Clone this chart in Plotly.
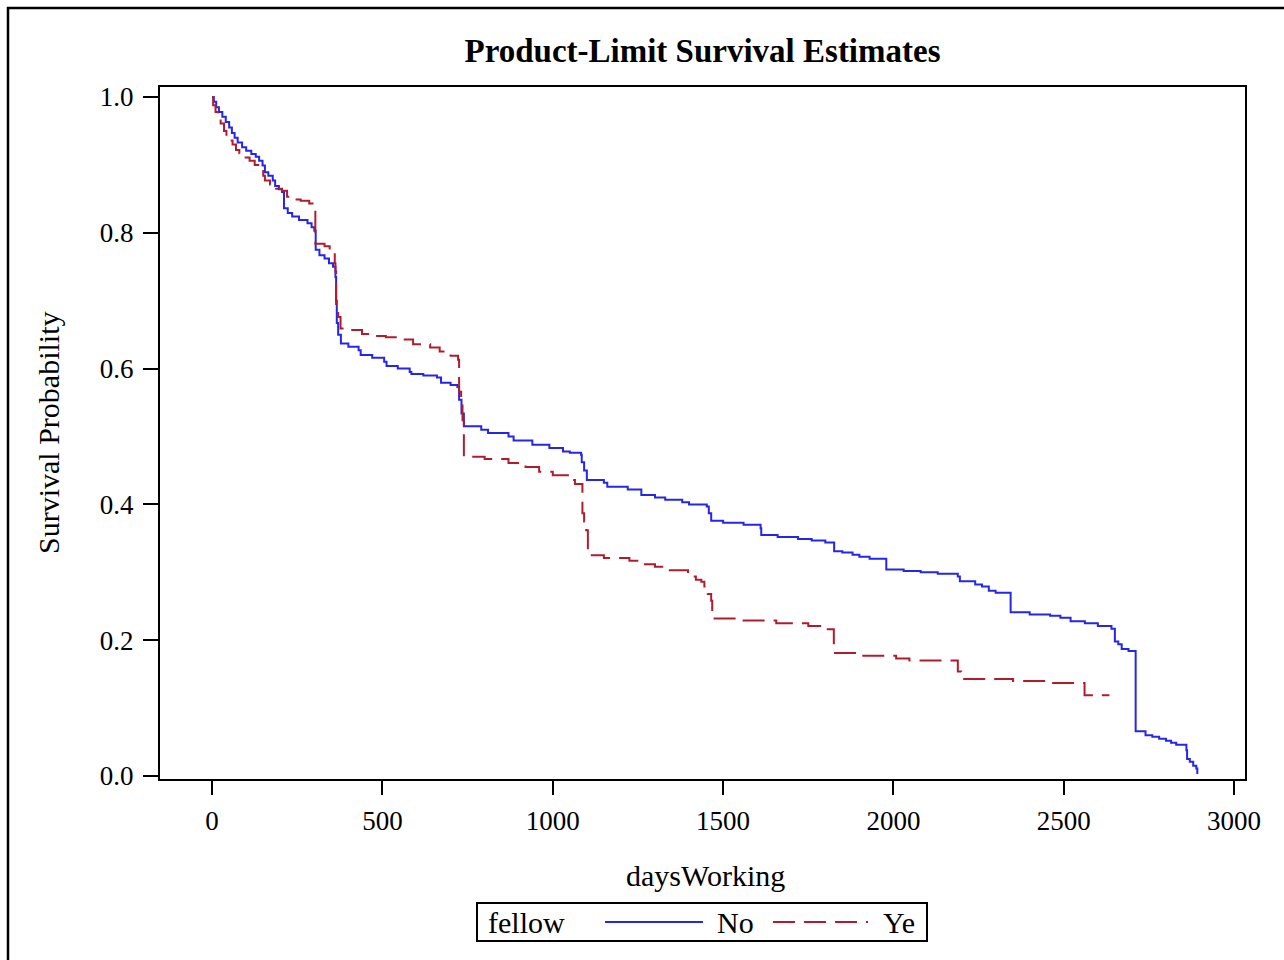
import plotly.graph_objects as go

# Product-limit (Kaplan-Meier) step points
no_days = [0, 5, 12, 20, 30, 40, 50, 58, 66, 75, 88, 100, 115, 128, 138, 148, 155, 165, 178, 185,
           196, 205, 211, 222, 235, 255, 280, 292, 300, 304, 315, 330, 343, 355, 362, 364, 366, 370,
           378, 400, 430, 436, 470, 505, 512, 545, 580, 585, 620, 660, 672, 700, 720, 725, 732, 739,
           790, 810, 870, 885, 940, 990, 1030, 1050, 1083, 1085, 1092, 1100, 1150, 1160, 1220, 1260,
           1300, 1330, 1380, 1400, 1452, 1458, 1465, 1500, 1560, 1610, 1612, 1660, 1720, 1760, 1800,
           1826, 1850, 1880, 1900, 1930, 1979, 2030, 2080, 2130, 2189, 2195, 2240, 2260, 2280, 2300,
           2344, 2400, 2460, 2490, 2520, 2562, 2600, 2640, 2650, 2660, 2670, 2690, 2711, 2740, 2760,
           2780, 2800, 2815, 2830, 2860, 2862, 2870, 2880, 2889, 2892]
no_surv = [1.0, 0.993, 0.985, 0.978, 0.971, 0.963, 0.955, 0.947, 0.940, 0.933, 0.926, 0.921, 0.916,
           0.912, 0.906, 0.899, 0.889, 0.884, 0.877, 0.869, 0.864, 0.860, 0.836, 0.829, 0.824, 0.819,
           0.814, 0.808, 0.803, 0.775, 0.767, 0.762, 0.755, 0.750, 0.735, 0.700, 0.667, 0.650, 0.637,
           0.632, 0.627, 0.620, 0.616, 0.610, 0.604, 0.600, 0.595, 0.592, 0.590, 0.587, 0.579, 0.576,
           0.573, 0.554, 0.534, 0.515, 0.510, 0.505, 0.500, 0.494, 0.488, 0.483, 0.478, 0.476, 0.473,
           0.462, 0.450, 0.436, 0.432, 0.426, 0.422, 0.414, 0.410, 0.407, 0.403, 0.400, 0.397, 0.387,
           0.376, 0.373, 0.370, 0.365, 0.355, 0.352, 0.349, 0.347, 0.344, 0.331, 0.329, 0.326, 0.323,
           0.320, 0.304, 0.302, 0.300, 0.298, 0.294, 0.287, 0.282, 0.279, 0.273, 0.270, 0.241, 0.238,
           0.236, 0.233, 0.228, 0.225, 0.221, 0.217, 0.198, 0.194, 0.187, 0.184, 0.066, 0.060, 0.058,
           0.055, 0.052, 0.049, 0.046, 0.038, 0.025, 0.021, 0.015, 0.011, 0.003]

ye_days = [0, 3, 10, 17, 25, 35, 42, 50, 60, 70, 80, 92, 110, 125, 140, 150, 155, 170, 188, 205,
           220, 235, 260, 285, 303, 330, 345, 360, 362, 364, 370, 377, 400, 440, 470, 510, 555, 590,
           640, 668, 700, 722, 725, 731, 735, 739, 800, 870, 920, 960, 1000, 1050, 1065, 1087, 1092,
           1098, 1103, 1150, 1225, 1260, 1300, 1330, 1397, 1420, 1436, 1445, 1455, 1465, 1468, 1550,
           1656, 1750, 1790, 1825, 1900, 2008, 2047, 2189, 2199, 2351, 2458, 2561, 2634]
ye_surv = [1.0, 0.988, 0.978, 0.970, 0.961, 0.950, 0.943, 0.936, 0.930, 0.922, 0.917, 0.911, 0.906,
           0.900, 0.893, 0.884, 0.877, 0.871, 0.865, 0.862, 0.853, 0.849, 0.847, 0.843, 0.784, 0.780,
           0.777, 0.755, 0.743, 0.691, 0.676, 0.659, 0.657, 0.651, 0.648, 0.646, 0.643, 0.636, 0.631,
           0.625, 0.619, 0.613, 0.566, 0.549, 0.524, 0.470, 0.467, 0.461, 0.455, 0.448, 0.443, 0.436,
           0.430, 0.387, 0.375, 0.362, 0.325, 0.321, 0.317, 0.312, 0.308, 0.303, 0.294, 0.289, 0.286,
           0.279, 0.268, 0.258, 0.232, 0.229, 0.225, 0.221, 0.216, 0.181, 0.177, 0.173, 0.170, 0.154,
           0.143, 0.140, 0.137, 0.119, 0.119]

x_ticks = [0, 500, 1000, 1500, 2000, 2500, 3000]
y_ticks = [0.0, 0.2, 0.4, 0.6, 0.8, 1.0]
y_tick_text = ["0.0", "0.2", "0.4", "0.6", "0.8", "1.0"]
legend_title = "fellow"
group_names = ["No", "Ye"]

FONT = "Liberation Serif, Times New Roman, serif"
BLUE = "#2626e6"
RED = "#b01c2e"
DASH = "22px,9px"

fig = go.Figure()
fig.add_trace(go.Scatter(x=no_days, y=no_surv, mode="lines", name=group_names[0],
                         line=dict(color=BLUE, width=2, shape="hv")))
fig.add_trace(go.Scatter(x=ye_days, y=ye_surv, mode="lines", name=group_names[1],
                         line=dict(color=RED, width=2, shape="hv", dash=DASH)))

W, H = 1284, 960
L, R, T, B = 160, 1245, 87, 779
pw, ph = R - L, B - T


def px(xp):
    return (xp - L) / pw


def py(yp):
    return (B - yp) / ph


LEG_Y = 922
annotations = [
    dict(text="daysWorking", xref="paper", yref="paper", x=px(705), y=py(875),
         xanchor="center", yanchor="middle", showarrow=False, font=dict(family=FONT, size=30)),
    dict(text="Survival Probability", xref="paper", yref="paper", x=px(48), y=py(433),
         xanchor="center", yanchor="middle", textangle=-90, showarrow=False,
         font=dict(family=FONT, size=30)),
    dict(text=legend_title, xref="paper", yref="paper", x=px(486), y=py(LEG_Y),
         xanchor="left", yanchor="middle", showarrow=False, font=dict(family=FONT, size=30)),
    dict(text=group_names[0], xref="paper", yref="paper", x=px(715), y=py(LEG_Y),
         xanchor="left", yanchor="middle", showarrow=False, font=dict(family=FONT, size=30)),
    dict(text=group_names[1], xref="paper", yref="paper", x=px(881), y=py(LEG_Y),
         xanchor="left", yanchor="middle", showarrow=False, font=dict(family=FONT, size=30)),
]

shapes = [
    dict(type="rect", xref="paper", yref="paper", x0=px(8), x1=px(1300),
         y0=py(980), y1=py(8), line=dict(color="black", width=2.5),
         fillcolor="rgba(0,0,0,0)", layer="below"),
    dict(type="rect", xref="paper", yref="paper", x0=px(477), x1=px(927),
         y0=py(941), y1=py(903), line=dict(color="black", width=2), fillcolor="white"),
    dict(type="line", xref="paper", yref="paper", x0=px(605), x1=px(703),
         y0=py(LEG_Y), y1=py(LEG_Y), line=dict(color=BLUE, width=2)),
    dict(type="line", xref="paper", yref="paper", x0=px(773), x1=px(868),
         y0=py(LEG_Y), y1=py(LEG_Y), line=dict(color=RED, width=2, dash=DASH)),
]

fig.update_layout(
    width=W, height=H,
    margin=dict(l=L, r=W - R, t=T, b=H - B, autoexpand=False),
    paper_bgcolor="white", plot_bgcolor="white",
    font=dict(family=FONT, color="black", size=27),
    title=dict(text="<b>Product-Limit Survival Estimates</b>", x=702.5 / W, xanchor="center",
               y=1 - 50 / H, yanchor="middle", yref="container",
               font=dict(family=FONT, size=33, color="black")),
    showlegend=False,
    xaxis=dict(range=[-153, 3032], tickvals=x_ticks, ticks="outside", ticklen=14, tickwidth=2,
               tickcolor="black", showline=True, linecolor="black", linewidth=2, mirror=True,
               showgrid=False, zeroline=False, tickfont=dict(family=FONT, size=27),
               ticklabelstandoff=3),
    yaxis=dict(range=[-0.0044, 1.0147], tickvals=y_ticks, ticktext=y_tick_text, ticks="outside",
               ticklen=15, tickwidth=2, tickcolor="black", showline=True, linecolor="black",
               linewidth=2, mirror=True, showgrid=False, zeroline=False,
               tickfont=dict(family=FONT, size=27), ticklabelstandoff=4),
    annotations=annotations,
    shapes=shapes,
)

fig.write_html("out.html")
